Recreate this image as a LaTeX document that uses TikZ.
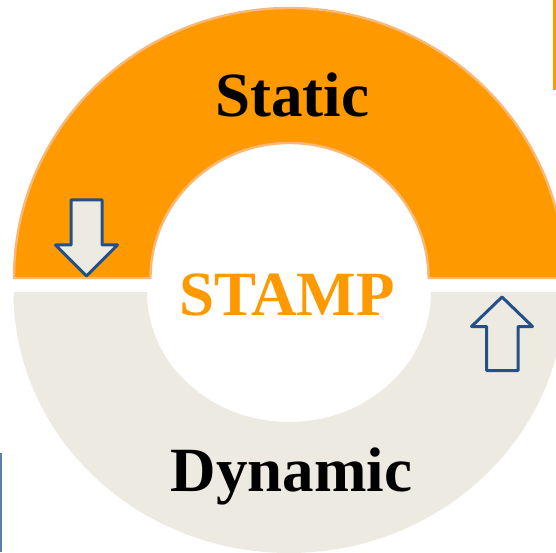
\documentclass[tikz,border=0pt]{standalone}
\usepackage{fontspec}
\setmainfont{Liberation Serif}
\definecolor{ringorange}{HTML}{FF9900}
\definecolor{ringedge}{HTML}{F8B878}
\definecolor{ringbeige}{HTML}{EDEBE1}
\definecolor{arrowblue}{HTML}{24508A}
\definecolor{sideblue}{HTML}{5A7FAE}
\tikzset{
  halfring/.style={line join=round},
  flowarrow/.style={draw=arrowblue, fill=ringbeige, line width=3pt, line join=round},
  ringlabel/.style={anchor=base, inner sep=0pt, font=\bfseries\fontsize{63}{63}\selectfont},
}
\begin{document}
\begin{tikzpicture}[x=1pt,y=1pt]
  \useasboundingbox (0,0) rectangle (556,552);
  \clip (0,0) rectangle (556,552);

  % upper half ring
  \path[halfring, fill=ringorange, draw=ringedge, line width=2.4pt]
    (14,274) arc[start angle=180, end angle=0, x radius=275.5, y radius=270]
    -- (428.5,274) arc[start angle=0, end angle=180, x radius=139, y radius=135]
    -- cycle;

  % lower half ring
  \path[halfring, fill=ringbeige]
    (13.5,260) arc[start angle=180, end angle=360, x radius=275.5, y radius=261]
    -- (431,260) arc[start angle=0, end angle=-180, x radius=142, y radius=130]
    -- cycle;

  % downward arrow on the left
  \draw[flowarrow]
    (71,352) -- (102,352) -- (102,307) -- (117.5,307) -- (86.5,276)
    -- (55.5,307) -- (71,307) -- cycle;

  % upward arrow on the right
  \draw[flowarrow]
    (486.5,181.5) -- (518,181.5) -- (518,225.5) -- (532.5,225.5) -- (502,255)
    -- (471.5,225.5) -- (486.5,225.5) -- cycle;

  % side strokes at the edges
  \fill[ringorange] (552.5,462) rectangle (556,552);
  \fill[sideblue] (0,0) rectangle (2,99);

  % labels
  \node[ringlabel, text=black] (static) at (292,435) {Static};
  \node[ringlabel, text=ringorange] (stamp) at (287,237) {STAMP};
  \node[ringlabel, text=black] (dynamic) at (291.5,61) {Dynamic};
\end{tikzpicture}
\end{document}
